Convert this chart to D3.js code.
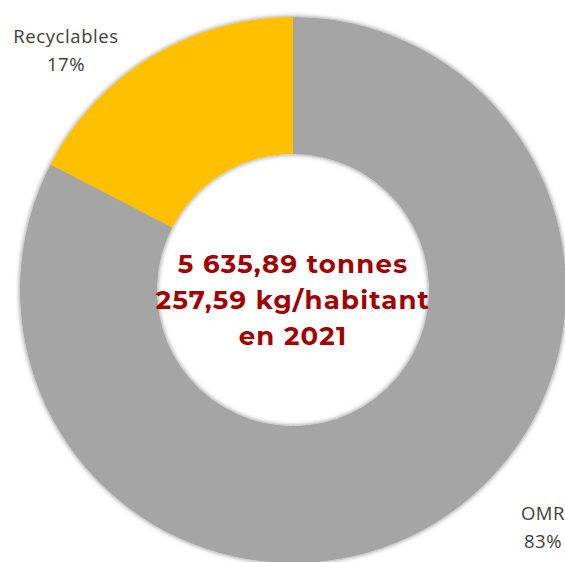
<!DOCTYPE html>
<html><head><meta charset="utf-8">
<script src="https://cdn.jsdelivr.net/npm/d3@7"></script>
<style>body{margin:0;background:#fff}</style>
</head><body>
<svg id="c" width="565" height="562"></svg>
<script>
const categories = ["OMR", "Recyclables"];
const values = [82.6, 17.4];
const colors = ["#A5A5A5", "#FFC000"];
const centerLines = ["5 635,89 tonnes", "257,59 kg/habitant", "en 2021"];

const svg = d3.select("#c");
const defs = svg.append("defs");
const f = defs.append("filter").attr("id","sh").attr("x","-10%").attr("y","-10%").attr("width","120%").attr("height","120%");
f.append("feDropShadow").attr("dx",0).attr("dy",0).attr("stdDeviation",2.5).attr("flood-color","#000").attr("flood-opacity",0.5);

const cx = 293, cy = 290, R = 273, r = 136;
const g = svg.append("g").attr("transform",`translate(${cx},${cy})`);
const pie = d3.pie().sort(null).value(d => d.v);
const data = categories.map((c,i)=>({c, v: values[i], col: colors[i]}));
const arcs = pie(data);
const arc = d3.arc().innerRadius(r).outerRadius(R);
g.append("g").attr("filter","url(#sh)").selectAll("path").data(arcs).join("path")
  .attr("d", arc).attr("fill", d => d.data.col);

// center text
const ct = svg.append("text").attr("text-anchor","middle")
  .attr("font-family","Montserrat, 'Open Sans', sans-serif").attr("font-weight","bold")
  .attr("font-size",26).attr("letter-spacing",1.2).attr("fill","#A30000");
centerLines.forEach((t,i)=>{
  ct.append("tspan").attr("x",cx).attr("y",273 + i*36).text(t);
});

// labels
const labelPos = {"OMR":[543,520], "Recyclables":[66,43]};
arcs.forEach(a=>{
  const [x,y] = labelPos[a.data.c];
  const pct = Math.round(a.data.v) + "%";
  const t = svg.append("text").attr("text-anchor","middle")
    .attr("font-family","'Open Sans', sans-serif").attr("font-size",18.5).attr("letter-spacing",0.6).attr("fill","#404040");
  t.append("tspan").attr("x",x).attr("y",y).text(a.data.c);
  t.append("tspan").attr("x",x).attr("y",y+28).text(pct);
});
</script>
</body></html>
